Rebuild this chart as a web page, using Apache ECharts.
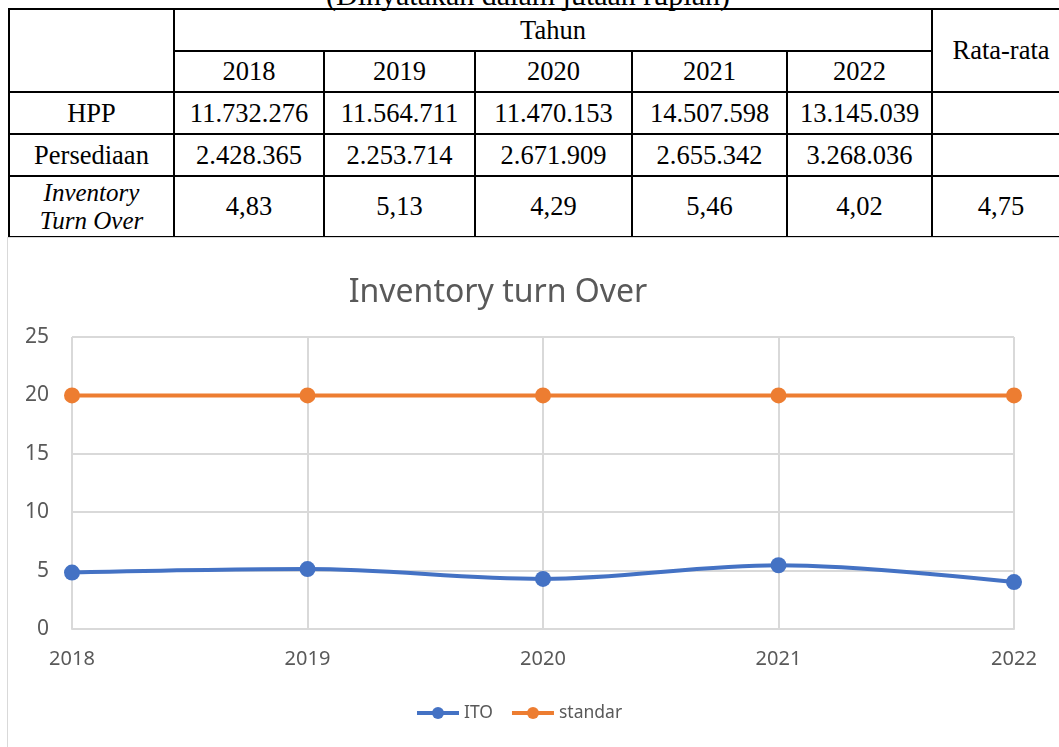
<!DOCTYPE html>
<html>
<head>
<meta charset="utf-8">
<script src="https://cdn.jsdelivr.net/npm/echarts@6/dist/echarts.min.js"></script>
<style>
  html, body { margin: 0; padding: 0; background: #fff; overflow: hidden; }
  body { width: 1059px; height: 747px; position: relative; }
  #caption {
    position: absolute; left: 278px; top: -20px; width: 500px; text-align: center;
    font-family: 'Liberation Serif', serif; font-size: 30px; line-height: 30px; color: #000;
  }
  #tbl {
    position: absolute; left: 8px; top: 8px; width: 1061px;
    border-collapse: collapse; table-layout: fixed;
    font-family: 'Liberation Serif', serif; font-size: 26.5px; color: #000;
  }
  #tbl td { border: 2px solid #000; text-align: center; padding: 0; white-space: nowrap; }
  #tbl td.it { font-style: italic; line-height: 28px; font-size: 25px; }
  #myChart {
    position: absolute; left: 7px; top: 237px; width: 1051px; height: 509px;
    border-left: 1px solid #d9d9d9; border-top: 1px solid #d9d9d9;
  }
</style>
</head>
<body>
<div id="caption">(Dinyatakan dalam jutaan rupiah)</div>
<table id="tbl"></table>
<div id="myChart"></div>
<script>
  // data
  var years = ['2018', '2019', '2020', '2021', '2022'];
  var hpp = [11732276, 11564711, 11470153, 14507598, 13145039];
  var persediaan = [2428365, 2253714, 2671909, 2655342, 3268036];
  var ito = [4.83, 5.13, 4.29, 5.46, 4.02];
  var rataRata = 4.75;
  var standar = [20, 20, 20, 20, 20];
  var yTicks = [0, 5, 10, 15, 20, 25];

  function ribuan(n) { return String(n).replace(/\B(?=(\d{3})+(?!\d))/g, '.'); }
  function koma(n) { return n.toFixed(2).replace('.', ','); }

  // tabel
  var colW = [165, 150, 151, 157, 155, 145, 138];
  var html = '<colgroup>' + colW.map(function (w) { return '<col style="width:' + w + 'px">'; }).join('') + '</colgroup>';
  html += '<tr style="height:42px"><td rowspan="2"></td><td colspan="5">Tahun</td><td rowspan="2">Rata-rata</td></tr>';
  html += '<tr style="height:41px">' + years.map(function (y) { return '<td>' + y + '</td>'; }).join('') + '</tr>';
  html += '<tr style="height:42px"><td>HPP</td>' + hpp.map(function (v) { return '<td>' + ribuan(v) + '</td>'; }).join('') + '<td></td></tr>';
  html += '<tr style="height:42px"><td>Persediaan</td>' + persediaan.map(function (v) { return '<td>' + ribuan(v) + '</td>'; }).join('') + '<td></td></tr>';
  html += '<tr style="height:61px"><td class="it">Inventory<br>Turn Over</td>' + ito.map(function (v) { return '<td>' + koma(v) + '</td>'; }).join('') + '<td>' + koma(rataRata) + '</td></tr>';
  document.getElementById('tbl').innerHTML = html;

  // grafik
  var myChart = echarts.init(document.getElementById('myChart'));
  var abu = '#595959';
  myChart.setOption({
    animation: false,
    title: {
      text: 'Inventory turn Over', left: 485, textAlign: 'center', top: 34,
      textStyle: { fontFamily: 'Noto Sans', fontSize: 32, fontWeight: 'normal', color: abu }
    },
    legend: {
      bottom: 20, left: 402, itemWidth: 42, itemHeight: 15, itemGap: 17,
      lineStyle: { width: 4 },
      textStyle: { fontFamily: 'Noto Sans', fontSize: 17.5, color: abu },
      data: ['ITO', 'standar']
    },
    grid: { left: 64, right: 45, top: 99, bottom: 118, containLabel: false },
    xAxis: {
      type: 'category', data: years, boundaryGap: false,
      axisLine: { lineStyle: { color: '#d9d9d9', width: 2 } },
      axisTick: { show: false },
      splitLine: { show: true, lineStyle: { color: '#d9d9d9', width: 2 } },
      axisLabel: { margin: 20, fontFamily: 'Noto Sans', fontSize: 20, color: abu }
    },
    yAxis: {
      type: 'value', min: yTicks[0], max: yTicks[yTicks.length - 1], interval: 5,
      axisLine: { show: false }, axisTick: { show: false },
      splitLine: { lineStyle: { color: '#d9d9d9', width: 2 } },
      axisLabel: { margin: 23, fontFamily: 'Noto Sans', fontSize: 21, color: abu }
    },
    series: [
      {
        name: 'ITO', type: 'line', data: ito, smooth: 0.35,
        symbol: 'circle', symbolSize: 16,
        lineStyle: { color: '#4472c4', width: 4 }, itemStyle: { color: '#4472c4' }
      },
      {
        name: 'standar', type: 'line', data: standar,
        symbol: 'circle', symbolSize: 16,
        lineStyle: { color: '#ed7d31', width: 4 }, itemStyle: { color: '#ed7d31' }
      }
    ]
  });
</script>
</body>
</html>
